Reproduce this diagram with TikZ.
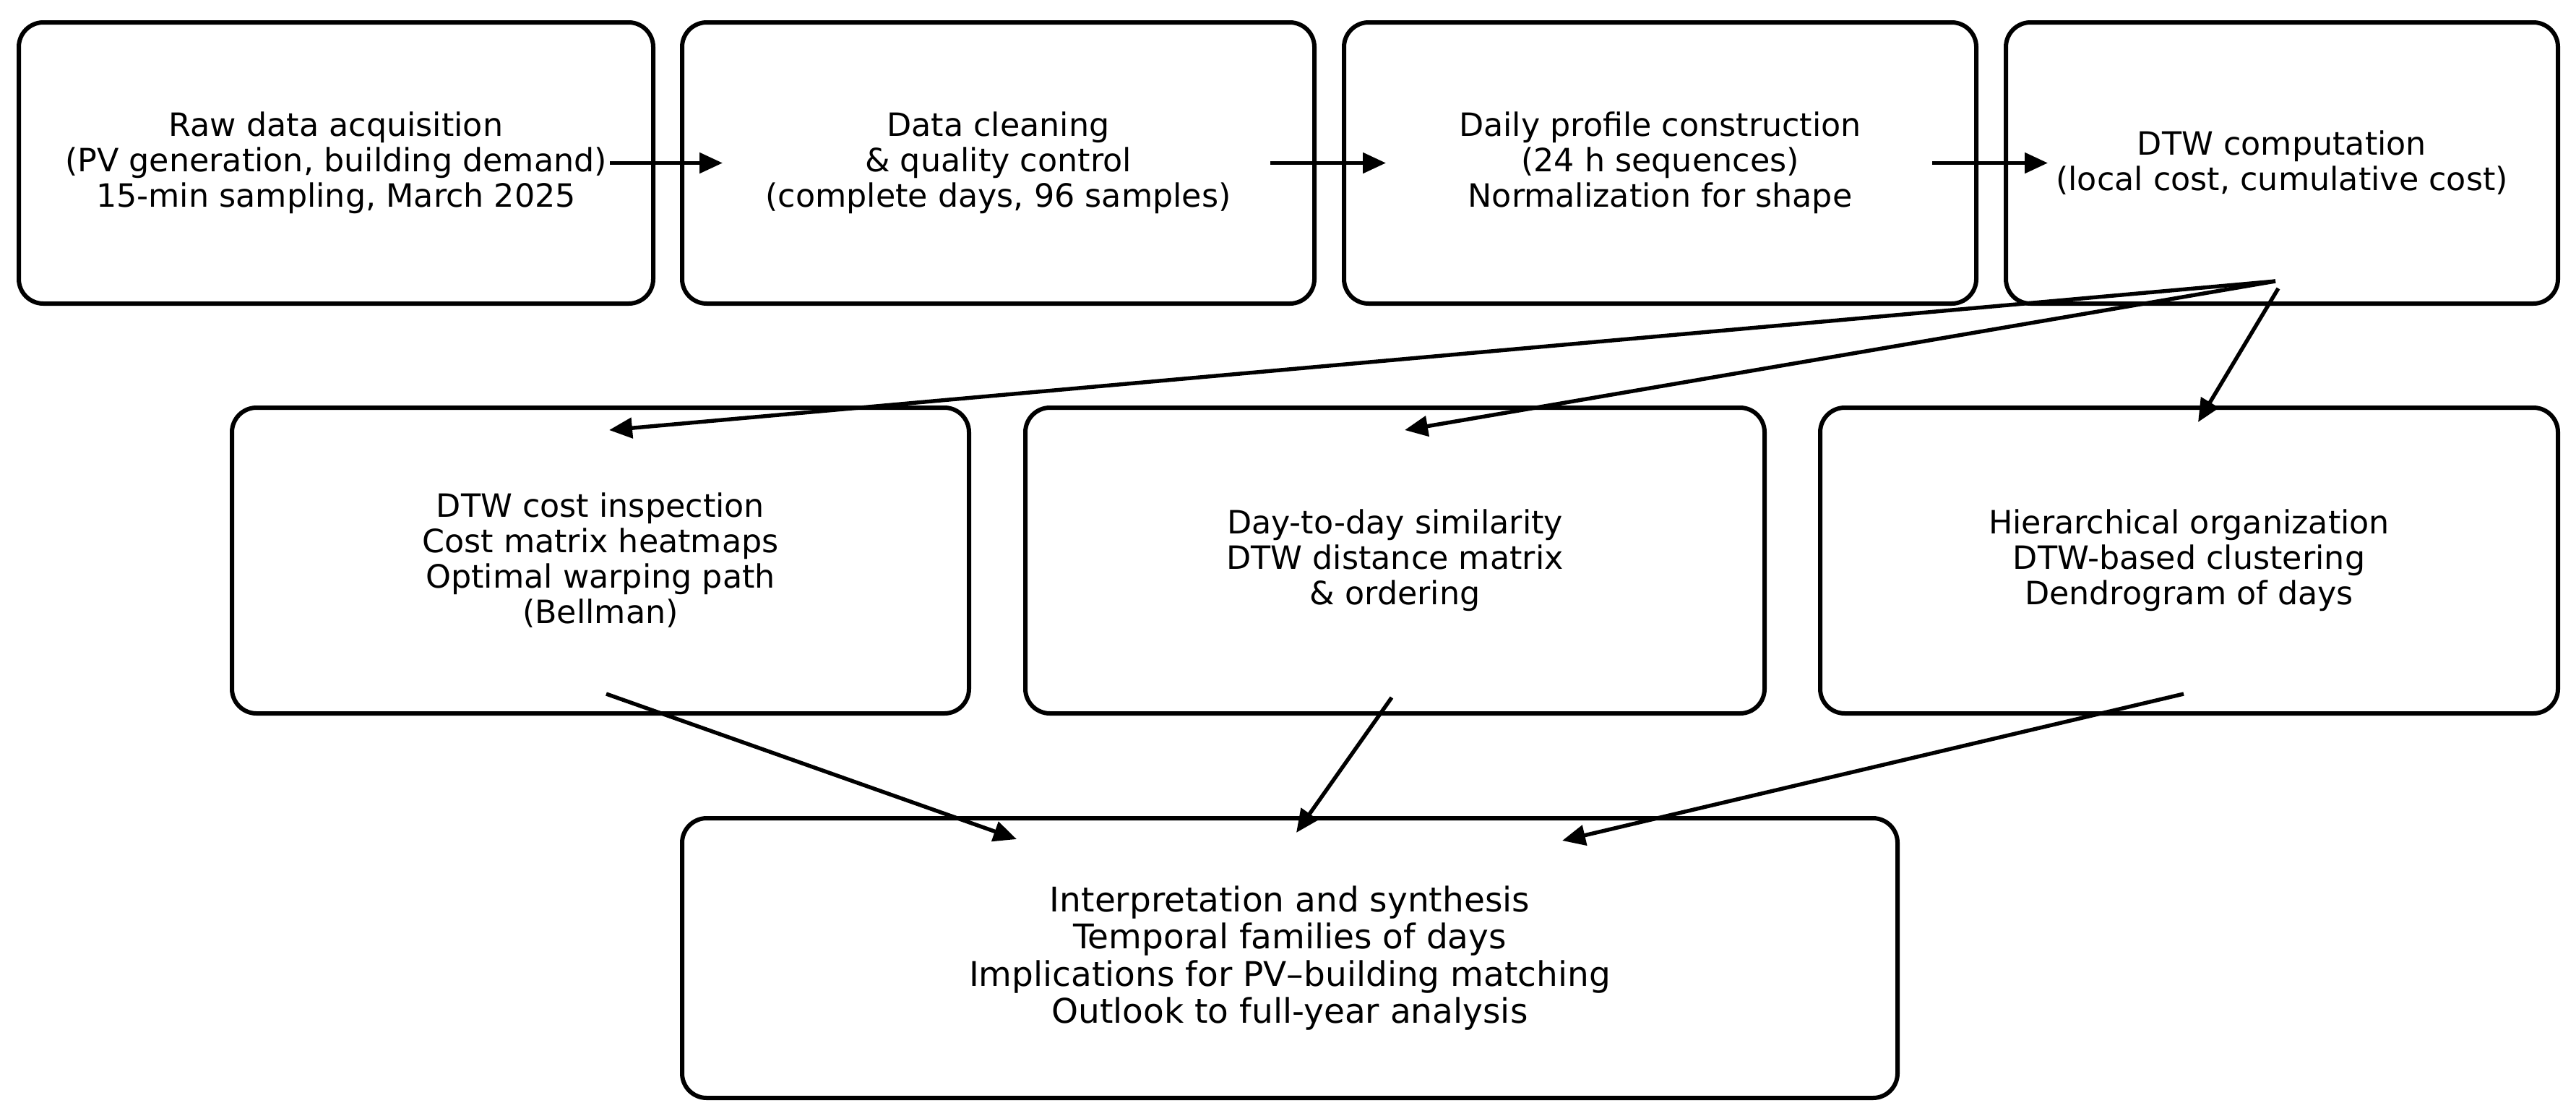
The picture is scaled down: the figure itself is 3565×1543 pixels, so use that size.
\documentclass[tikz,border=0pt]{standalone}
\usepackage{fontspec}
\setmainfont{DejaVu Sans}
\usetikzlibrary{arrows.meta,calc}
\begin{document}
\begin{tikzpicture}[x=0.5pt,y=-0.5pt,
  box/.style={draw, line width=3pt, rounded corners=17pt, align=center, inner sep=0pt,
    font=\fontsize{22.2}{24.5}\selectfont},
  bigbox/.style={box, font=\fontsize{23.5}{25.8}\selectfont},
  arr/.style={line width=2.7pt, -{Triangle[length=16pt,width=14pt]}}]
\useasboundingbox (0,0) rectangle (3565,1543);
% top row
\node[box, minimum width=439pt, minimum height=194.5pt] (b1) at (465,225.5)
  {Raw data acquisition\\(PV generation, building demand)\\15-min sampling, March 2025};
\node[box, minimum width=437.5pt, minimum height=194.5pt] (b2) at (1381.5,225.5)
  {Data cleaning\\\& quality control\\(complete days, 96 samples)};
\node[box, minimum width=437.5pt, minimum height=194.5pt] (b3) at (2297.5,225.5)
  {Daily profile construction\\(24 h sequences)\\Normalization for shape};
\node[box, minimum width=382pt, minimum height=194.5pt] (b4) at (3158,225.5)
  {DTW computation\\(local cost, cumulative cost)};
% middle row
\node[box, minimum width=510pt, minimum height=211.5pt] (b5) at (831,775.5)
  {DTW cost inspection\\Cost matrix heatmaps\\Optimal warping path\\(Bellman)};
\node[box, minimum width=511.5pt, minimum height=211.5pt] (b6) at (1930.5,775.5)
  {Day-to-day similarity\\DTW distance matrix\\\& ordering};
\node[box, minimum width=510.5pt, minimum height=211.5pt] (b7) at (3029.5,775.5)
  {Hierarchical organization\\DTW-based clustering\\Dendrogram of days};
% bottom
\node[bigbox, minimum width=841pt, minimum height=193.5pt] (b8) at (1785,1325.5)
  {Interpretation and synthesis\\Temporal families of days\\Implications for PV–building matching\\Outlook to full-year analysis};
% arrows
\draw[arr] ($(b1.east)+(-63,0)$) -- ($(b2.west)+(59,0)$);
\draw[arr] ($(b2.east)+(-64,0)$) -- ($(b3.west)+(61,0)$);
\draw[arr] ($(b3.east)+(-64,0)$) -- ($(b4.west)+(61,0)$);
\draw[arr] ($(b4.south)+(-9,-34)$) -- ($(b5.north)+(12,34)$);
\draw[arr] ($(b4.south)+(-9,-34)$) -- ($(b6.north)+(13.5,34)$);
\draw[arr] ($(b4.south)+(-5,-24)$) -- ($(b7.north)+(12.5,23)$);
\draw[arr] ($(b5.south)+(8,-30)$) -- ($(b8.north)+(-378,32)$);
\draw[arr] ($(b6.south)+(-4.5,-25)$) -- ($(b8.north)+(9,23)$);
\draw[arr] ($(b7.south)+(-7.5,-30)$) -- ($(b8.north)+(377,34)$);
\end{tikzpicture}
\end{document}
